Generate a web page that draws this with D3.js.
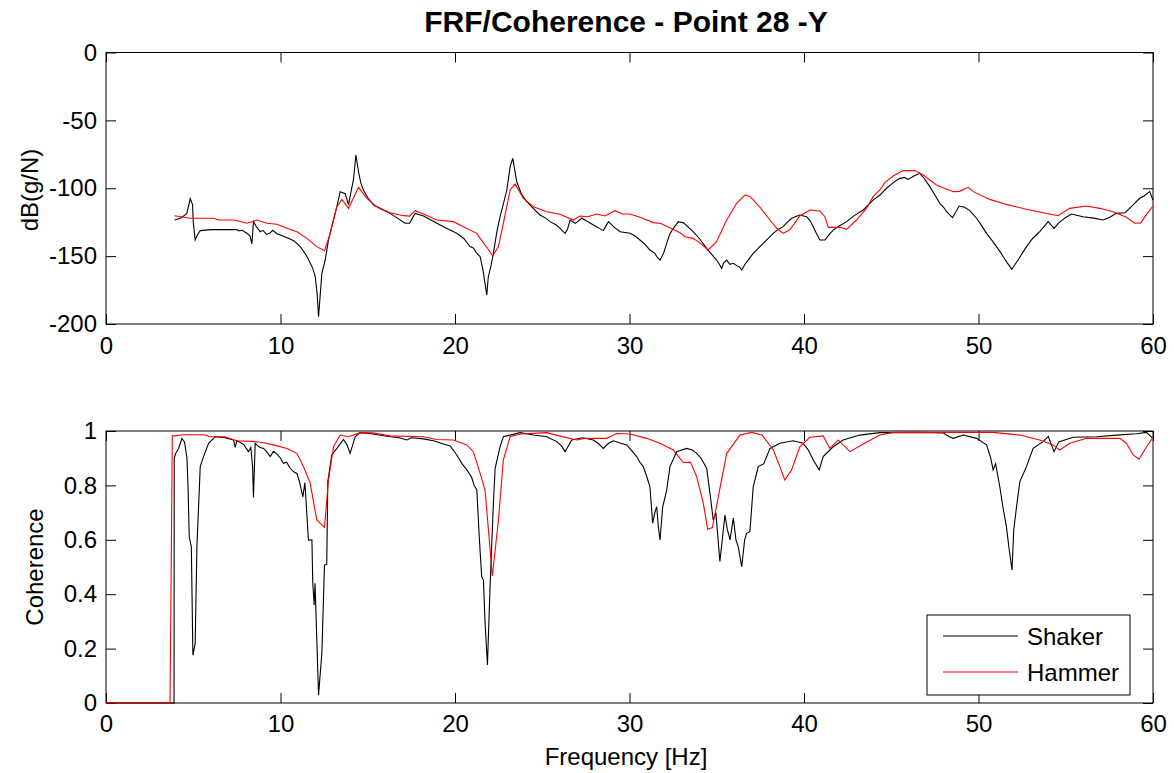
<!DOCTYPE html>
<html>
<head>
<meta charset="utf-8">
<script src="https://cdn.jsdelivr.net/npm/d3@7/dist/d3.min.js"></script>
<style>
body { margin: 0; background: #fff; }
text { font-family: "Liberation Sans", Arial, sans-serif; fill: #000; }
</style>
</head>
<body>
<script>
var w = 1174
var h = 773

// tick labels
var freqTicks = [0, 10, 20, 30, 40, 50, 60]
var dbTicks = [0, -50, -100, -150, -200]
var cohTicks = [0, 0.2, 0.4, 0.6, 0.8, 1]

var seriesNames = ["Shaker", "Hammer"]
var seriesColors = ["#000000", "#ff0000"]

// FRF magnitude [Hz, dB(g/N)]
var shakerFrf = [[3.93,-123.4],[4.3,-122],[4.63,-118.5],[4.75,-112],[4.83,-107.7],[4.96,-112],[5.0,-125],[5.11,-138],[5.25,-134],[5.4,-131.2],[6.0,-130.5],[7.0,-130.5],[7.5,-130.5],[7.6,-131.5],[7.8,-131],[8.07,-133.2],[8.25,-135],[8.36,-141],[8.45,-124.6],[8.6,-128],[8.84,-132],[9.0,-131],[9.2,-134],[9.4,-133],[9.55,-131],[9.8,-133.5],[10.1,-135],[10.55,-137.4],[10.8,-139],[11.13,-143],[11.3,-146],[11.4,-148],[11.55,-151],[11.7,-155],[11.85,-159],[11.99,-165],[12.1,-178],[12.18,-194.6],[12.28,-178],[12.37,-162.7],[12.56,-152.9],[12.75,-138],[13.0,-125],[13.23,-113.6],[13.42,-102.5],[13.71,-104],[13.9,-112.3],[14.05,-102],[14.18,-93.9],[14.32,-75.5],[14.47,-87.8],[14.6,-96],[14.75,-101.3],[15.0,-107],[15.33,-112.3],[15.8,-115.5],[16.28,-118.5],[16.7,-122],[17.14,-125.8],[17.4,-125.8],[17.71,-118.5],[18.2,-120.4],[18.7,-124],[19.15,-127],[19.6,-130],[20.1,-133.2],[20.5,-137],[20.86,-143],[21.05,-144],[21.2,-147],[21.44,-150.4],[21.6,-160],[21.82,-178.6],[21.91,-165],[22.05,-158],[22.2,-148],[22.4,-132],[22.58,-121],[22.8,-110],[22.97,-101.3],[23.16,-84.1],[23.31,-78],[23.54,-95.2],[23.8,-104],[24.11,-109.9],[24.5,-115],[24.87,-119.7],[25.2,-122],[25.45,-124.6],[25.8,-127],[26.02,-129.5],[26.2,-132],[26.31,-133.2],[26.45,-130],[26.6,-123.4],[26.9,-125.9],[27.26,-122.1],[27.6,-124.5],[27.93,-127],[28.2,-129],[28.5,-131.2],[28.79,-124.6],[29.1,-128.5],[29.46,-132],[30.03,-133.2],[30.3,-135],[30.6,-138.1],[30.9,-141.5],[31.17,-145.5],[31.45,-148],[31.6,-151],[31.75,-152.9],[31.95,-148],[32.13,-140.6],[32.3,-134],[32.51,-129.5],[32.8,-124.6],[33.1,-125.5],[33.4,-129],[33.65,-132],[34.0,-137],[34.42,-144.3],[34.7,-148.5],[34.99,-152.9],[35.15,-156],[35.28,-159],[35.4,-155],[35.57,-152.9],[35.75,-156],[35.95,-155.3],[36.15,-157],[36.3,-158],[36.43,-160.2],[36.62,-156],[36.85,-152],[37.09,-148],[37.4,-144],[37.66,-140.6],[37.95,-137],[38.24,-133.2],[38.5,-130.5],[38.81,-128.3],[39.05,-125],[39.29,-122.1],[39.5,-121],[39.76,-119.7],[40.15,-121],[40.35,-124],[40.53,-128.3],[40.7,-133],[40.91,-138.1],[41.2,-138.1],[41.45,-134],[41.67,-130.8],[42.0,-128],[42.44,-124.6],[42.9,-120],[43.39,-116],[43.96,-108.7],[44.35,-105],[44.73,-100],[45.1,-96],[45.49,-92.7],[45.75,-92],[45.97,-93.5],[46.3,-91],[46.64,-89],[46.9,-93],[47.21,-98.8],[47.5,-105],[47.78,-111.1],[48.0,-114],[48.17,-117.3],[48.51,-121.7],[48.89,-113.1],[49.2,-114],[49.5,-116.5],[49.89,-122.1],[50.15,-127],[50.46,-133.2],[50.75,-138],[51.03,-143],[51.3,-148],[51.6,-154.1],[51.91,-159.7],[52.1,-156],[52.27,-152.9],[52.5,-148],[52.75,-143],[53.1,-137],[53.51,-132],[53.8,-127.5],[53.99,-124.6],[54.33,-129.5],[54.6,-125.5],[55.0,-121.5],[55.33,-119],[55.99,-121],[56.6,-122],[57.14,-123.4],[57.5,-121.5],[57.9,-118.5],[58.4,-118],[58.8,-113],[59.24,-107.4],[59.5,-105.5],[59.81,-102.5],[60.0,-108.7]]

var hammerFrf = [[3.93,-120.2],[4.3,-121],[4.83,-122.1],[5.5,-122.1],[6.16,-122.1],[6.45,-123.4],[7.31,-123.4],[7.7,-124.5],[8.07,-125.8],[8.4,-124.5],[8.65,-123.4],[9.22,-125.8],[9.8,-126.5],[10.37,-129.5],[10.94,-132],[11.51,-136.9],[12.08,-143],[12.52,-146],[12.85,-133.2],[13.23,-113.6],[13.52,-108.2],[13.9,-114.8],[14.47,-99.3],[14.95,-107.4],[15.42,-112.8],[16.28,-118],[17.05,-120.2],[17.4,-120.5],[17.71,-116.5],[18.2,-119],[18.95,-123.4],[19.91,-124.6],[20.48,-128.3],[21.25,-133.2],[21.44,-136.9],[21.82,-143.5],[22.16,-149.7],[22.49,-143],[22.8,-124],[23.16,-101.3],[23.44,-96.9],[23.92,-107.4],[24.49,-113.6],[25.26,-117.3],[26.02,-119.2],[26.78,-123.4],[27.16,-120.4],[27.6,-121],[28.12,-119],[28.6,-120.4],[29.17,-116.5],[29.6,-119],[30.03,-119],[30.6,-121.4],[31.37,-125.3],[31.8,-126],[32.51,-130.3],[32.89,-132.7],[33.18,-135.7],[33.65,-136.9],[34.1,-141],[34.51,-145.5],[34.99,-139.4],[35.57,-123.4],[36.14,-111.1],[36.61,-105],[36.9,-106],[37.48,-114],[38.05,-123.4],[38.43,-129.5],[38.81,-133.2],[39.2,-130.5],[39.76,-120.4],[40.34,-116],[40.91,-116.8],[41.2,-121],[41.39,-128.8],[42.06,-128.8],[42.44,-130.3],[43.01,-123.4],[43.58,-114.8],[43.96,-106.2],[44.35,-101.3],[44.63,-95.9],[45.11,-91],[45.68,-87],[46.35,-87],[46.83,-90.2],[47.59,-97.6],[48.55,-102.5],[48.9,-102.3],[49.41,-99.3],[49.7,-102.5],[50.65,-108.2],[51.6,-111.9],[52.75,-115.5],[53.7,-118],[54.56,-120.2],[55.23,-114.8],[56.19,-113.1],[56.95,-114.8],[57.72,-117.3],[58.48,-121.4],[58.96,-125.8],[59.3,-125.5],[59.67,-118.5],[60.0,-113.1]]

// coherence [Hz, 0..1]
var shakerCoh = [[0,0],[3.9,0],[3.91,0.9],[4.0,0.918],[4.16,0.936],[4.35,0.973],[4.5,0.96],[4.64,0.9],[4.7,0.795],[4.77,0.611],[4.89,0.575],[4.98,0.176],[5.11,0.219],[5.21,0.575],[5.4,0.869],[5.59,0.906],[5.88,0.955],[6.26,0.979],[6.8,0.975],[7.31,0.967],[7.4,0.94],[7.5,0.965],[7.9,0.95],[8.05,0.935],[8.17,0.924],[8.3,0.94],[8.4,0.869],[8.45,0.756],[8.55,0.955],[8.8,0.94],[9.03,0.936],[9.2,0.925],[9.41,0.906],[9.6,0.925],[9.8,0.915],[10.0,0.9],[10.17,0.881],[10.35,0.885],[10.56,0.863],[10.75,0.85],[10.94,0.844],[11.1,0.81],[11.28,0.758],[11.4,0.81],[11.6,0.599],[11.8,0.6],[11.85,0.44],[11.93,0.36],[11.98,0.44],[12.18,0.029],[12.37,0.183],[12.52,0.507],[12.65,0.51],[12.71,0.814],[12.94,0.912],[13.23,0.936],[13.61,0.969],[13.8,0.95],[13.99,0.918],[14.28,0.979],[14.56,0.994],[15.2,0.99],[16.28,0.979],[16.8,0.975],[17.24,0.967],[17.5,0.975],[18.19,0.971],[18.76,0.964],[19.2,0.955],[19.72,0.945],[19.9,0.93],[20.1,0.912],[20.4,0.88],[20.68,0.857],[20.95,0.83],[21.1,0.8],[21.25,0.783],[21.4,0.6],[21.53,0.464],[21.63,0.452],[21.72,0.3],[21.86,0.14],[22.01,0.428],[22.2,0.734],[22.3,0.863],[22.58,0.942],[22.77,0.979],[23.73,0.994],[24.5,0.985],[25.26,0.979],[25.83,0.961],[26.1,0.945],[26.31,0.924],[26.69,0.967],[27.3,0.975],[27.93,0.967],[28.2,0.955],[28.5,0.936],[28.8,0.955],[29.07,0.964],[29.5,0.955],[29.84,0.949],[30.1,0.93],[30.41,0.906],[30.6,0.885],[30.79,0.869],[31.0,0.83],[31.17,0.795],[31.33,0.661],[31.45,0.7],[31.56,0.722],[31.65,0.65],[31.75,0.599],[31.9,0.72],[32.13,0.783],[32.32,0.869],[32.7,0.924],[33.0,0.93],[33.28,0.936],[33.6,0.93],[33.85,0.918],[34.1,0.9],[34.42,0.863],[34.61,0.771],[34.8,0.673],[34.95,0.7],[35.18,0.52],[35.47,0.691],[35.6,0.64],[35.76,0.6],[35.95,0.68],[36.1,0.6],[36.23,0.575],[36.43,0.501],[36.6,0.6],[36.71,0.624],[36.9,0.63],[37.09,0.795],[37.38,0.869],[37.7,0.88],[38.05,0.936],[38.62,0.955],[39.38,0.964],[39.95,0.955],[40.25,0.93],[40.53,0.893],[40.87,0.857],[41.1,0.906],[41.67,0.942],[42.24,0.967],[43.2,0.985],[44.35,0.994],[45.11,0.994],[46.5,0.995],[47.97,0.993],[48.3,0.98],[48.55,0.973],[49.12,0.985],[49.89,0.973],[50.2,0.96],[50.46,0.949],[50.7,0.9],[50.84,0.857],[50.98,0.88],[51.22,0.795],[51.41,0.716],[51.6,0.648],[51.75,0.569],[51.92,0.489],[52.02,0.636],[52.18,0.722],[52.37,0.814],[52.75,0.869],[53.13,0.936],[53.7,0.961],[54.0,0.98],[54.33,0.924],[54.6,0.96],[55.42,0.977],[56.76,0.979],[57.91,0.985],[59.05,0.99],[59.62,0.995],[60.0,0.973]]

var hammerCoh = [[0,0],[3.67,0],[3.8,0.982],[3.95,0.982],[4.4,0.986],[5.6,0.986],[5.97,0.979],[6.8,0.979],[7.5,0.964],[8.4,0.962],[9.03,0.957],[9.6,0.949],[10.37,0.936],[10.94,0.918],[11.32,0.869],[11.7,0.808],[12.08,0.673],[12.52,0.646],[12.75,0.82],[13.04,0.942],[13.42,0.985],[13.9,0.979],[14.56,0.994],[15.3,0.993],[16.28,0.982],[18.19,0.979],[18.95,0.969],[19.91,0.967],[20.68,0.949],[21.05,0.924],[21.44,0.844],[21.72,0.783],[22.14,0.467],[22.49,0.673],[22.77,0.893],[23.16,0.979],[23.73,0.989],[25.26,0.994],[25.9,0.983],[26.98,0.967],[27.4,0.973],[28.69,0.973],[29.27,0.991],[30.03,0.989],[30.98,0.973],[31.75,0.955],[32.51,0.93],[33.08,0.884],[33.5,0.885],[33.85,0.832],[34.23,0.734],[34.48,0.639],[34.75,0.645],[35.09,0.759],[35.57,0.918],[36.33,0.985],[37.0,0.995],[37.6,0.985],[38.24,0.93],[38.62,0.869],[38.9,0.82],[39.29,0.857],[39.76,0.942],[40.34,0.977],[41.1,0.982],[41.48,0.936],[41.96,0.967],[42.63,0.924],[43.39,0.952],[44.35,0.985],[45.11,0.995],[50.84,0.995],[52.37,0.985],[53.51,0.967],[54.27,0.949],[54.65,0.93],[55.23,0.955],[56.19,0.973],[58.1,0.973],[58.48,0.955],[58.86,0.912],[59.2,0.896],[59.63,0.942],[60.0,0.977]]

var left = 106, right = 1153
var top1 = 52.5, bot1 = 324
var top2 = 431, bot2 = 703

var svg = d3.select("body")
    .append("svg")
    .attr("width", w)
    .attr("height", h)

var x = d3.scaleLinear().domain([0, 60]).range([left, right])
var y1 = d3.scaleLinear().domain([-200, 0]).range([bot1, top1])
var y2 = d3.scaleLinear().domain([0, 1]).range([bot2, top2])

function fmt(d) { return String(d) }

function drawAxes(y, yTicks, top, bot, padBottom) {
    var g = svg.append("g")
    g.append("g")
        .attr("transform", "translate(0," + bot + ")")
        .call(d3.axisBottom(x).tickValues(freqTicks).tickFormat(fmt).tickSize(-10).tickSizeOuter(0).tickPadding(padBottom))
    g.append("g")
        .attr("transform", "translate(0," + top + ")")
        .call(d3.axisTop(x).tickValues(freqTicks).tickFormat("").tickSize(-10).tickSizeOuter(0))
    g.append("g")
        .attr("transform", "translate(" + left + ",0)")
        .call(d3.axisLeft(y).tickValues(yTicks).tickFormat(fmt).tickSize(-10).tickSizeOuter(0).tickPadding(9))
    g.append("g")
        .attr("transform", "translate(" + right + ",0)")
        .call(d3.axisRight(y).tickValues(yTicks).tickFormat("").tickSize(-10).tickSizeOuter(0))
    g.selectAll(".domain").remove()
    g.selectAll(".tick line").attr("stroke", "#000")
    g.selectAll(".tick text").style("font-size", "24px").attr("fill", "#000")
    g.append("rect")
        .attr("x", left)
        .attr("y", top)
        .attr("width", right - left)
        .attr("height", bot - top)
        .attr("fill", "none")
        .attr("stroke", "#000")
        .attr("stroke-width", 1)
}

drawAxes(y1, dbTicks, top1, bot1, 13)
drawAxes(y2, cohTicks, top2, bot2, 12)

var line1 = d3.line().x(function(d) { return x(d[0]) }).y(function(d) { return y1(d[1]) })
var line2 = d3.line().x(function(d) { return x(d[0]) }).y(function(d) { return y2(d[1]) })

svg.selectAll("path.frf")
    .data([shakerFrf, hammerFrf])
    .enter()
    .append("path")
    .attr("class", "frf")
    .attr("d", line1)
    .attr("fill", "none")
    .attr("stroke", function(d, i) { return seriesColors[i] })
    .attr("stroke-width", 1.1)

svg.selectAll("path.coh")
    .data([shakerCoh, hammerCoh])
    .enter()
    .append("path")
    .attr("class", "coh")
    .attr("d", line2)
    .attr("fill", "none")
    .attr("stroke", function(d, i) { return seriesColors[i] })
    .attr("stroke-width", 1.1)

// title and labels
svg.append("text")
    .attr("x", 626)
    .attr("y", 32)
    .attr("text-anchor", "middle")
    .style("font-size", "30px")
    .style("font-weight", "bold")
    .text("FRF/Coherence - Point 28 -Y")

svg.append("text")
    .attr("transform", "translate(38,190) rotate(-90)")
    .attr("text-anchor", "middle")
    .style("font-size", "24px")
    .text("dB(g/N)")

svg.append("text")
    .attr("transform", "translate(43,567) rotate(-90)")
    .attr("text-anchor", "middle")
    .style("font-size", "24px")
    .text("Coherence")

svg.append("text")
    .attr("x", 626)
    .attr("y", 765)
    .attr("text-anchor", "middle")
    .style("font-size", "24px")
    .text("Frequency [Hz]")

// legend
var legend = svg.append("g")
legend.append("rect")
    .attr("x", 927)
    .attr("y", 615)
    .attr("width", 203)
    .attr("height", 80)
    .attr("fill", "#fff")
    .attr("stroke", "#000")
    .attr("stroke-width", 1)

var items = legend.selectAll("g.item")
    .data(seriesNames)
    .enter()
    .append("g")
    .attr("class", "item")
    .attr("transform", function(d, i) { return "translate(0," + (636 + i * 36) + ")" })

items.append("line")
    .attr("x1", 943)
    .attr("x2", 1018)
    .attr("stroke", function(d, i) { return seriesColors[i] })
    .attr("stroke-width", 1.1)

items.append("text")
    .attr("x", 1027)
    .attr("y", 9)
    .style("font-size", "24px")
    .text(function(d) { return d })
</script>
</body>
</html>
